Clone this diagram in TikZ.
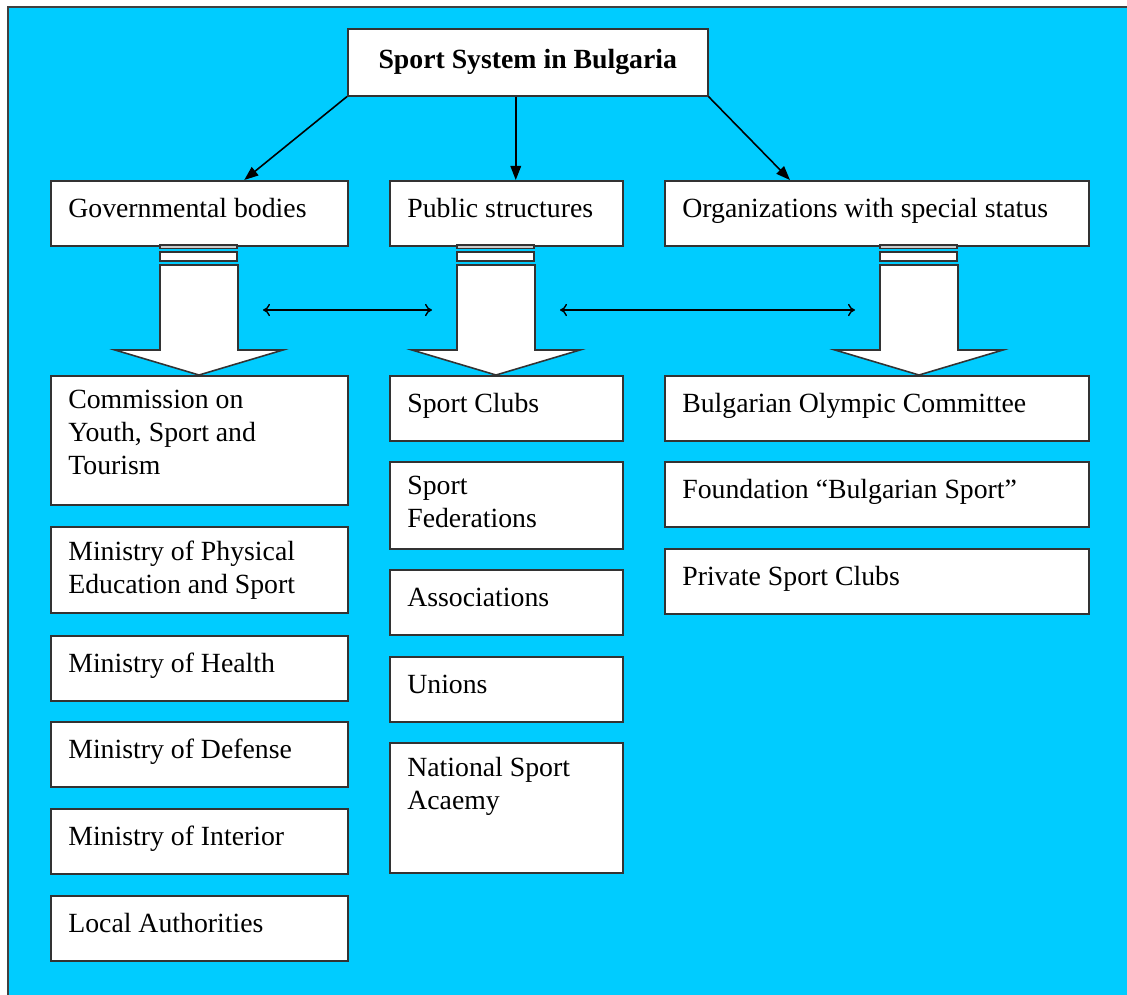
\documentclass[tikz,border=0pt]{standalone}
\usepackage{fontspec}
\setmainfont{Liberation Serif}
\usetikzlibrary{arrows.meta}
\definecolor{bgblue}{RGB}{0,204,255}
\tikzset{
  box/.style={draw=black!80, line width=0.9pt, fill=white, anchor=north west, inner sep=0pt, minimum height=1.3cm},
  txt/.style={anchor=north west, align=left, inner xsep=0.36cm, inner ysep=0.29cm, font=\fontsize{15.8}{18.8}\selectfont, execute at begin node=\strut},
  down/.style={-{Triangle[length=8pt,width=6pt]}, line width=0.9pt},
  both/.style={{To[length=4pt,width=7pt]}-{To[length=4pt,width=7pt]}, line width=0.8pt},
  blk/.style={draw=black!80, line width=0.9pt, fill=white}
}

\begin{document}
\begin{tikzpicture}[x=0.02cm,y=-0.02cm]
            \clip (0,0) rectangle (1127,995);
            \draw[fill=bgblue, draw=black!75, line width=1pt] (8,7) rectangle (1140,1010);

            \node[box, minimum width=7.2cm, minimum height=1.34cm, font=\fontsize{15.8}{18}\selectfont\bfseries] (sys) at (347,28) {Sport System in Bulgaria};

            \node[box, minimum width=5.94cm] (gov) at (50,180) {};
            \node[txt] (gov-t) at (gov.north west) {Governmental bodies};
            \node[box, minimum width=4.66cm] (pub) at (389,180) {};
            \node[txt] (pub-t) at (pub.north west) {Public structures};
            \node[box, minimum width=8.48cm] (org) at (664,180) {};
            \node[txt] (org-t) at (org.north west) {Organizations with special status};

            \draw[down] (sys.south west)--([xshift=0.9cm]gov.north);
            \draw[down] ([xshift=0.19cm]pub.north |- sys.south)--([xshift=0.19cm]pub.north);
            \draw[down] (sys.south east)--([xshift=2.52cm]org.north west);

            \coordinate (ga) at (198.5,265);
            \coordinate (pa) at (495.5,265);
            \coordinate (oa) at (918.5,265);
            \draw[blk, fill=gray!40] (ga) ++(-38.5,-20) rectangle ++(77,3.5);
            \draw[blk] (ga) ++(-38.5,-13) rectangle ++(77,9);
            \draw[blk] (ga) ++(-38.5,0)--++(0,85)--++(-45,0)--++(84,25)--++(84,-25)--++(-45,0)--++(0,-85)--cycle;
            \draw[blk, fill=gray!40] (pa) ++(-38.5,-20) rectangle ++(77,3.5);
            \draw[blk] (pa) ++(-38.5,-13) rectangle ++(77,9);
            \draw[blk] (pa) ++(-38.5,0)--++(0,85)--++(-45,0)--++(84,25)--++(84,-25)--++(-45,0)--++(0,-85)--cycle;
            \draw[blk, fill=gray!40] (oa) ++(-38.5,-20) rectangle ++(77,3.5);
            \draw[blk] (oa) ++(-38.5,-13) rectangle ++(77,9);
            \draw[blk] (oa) ++(-38.5,0)--++(0,85)--++(-45,0)--++(84,25)--++(84,-25)--++(-45,0)--++(0,-85)--cycle;

            \draw[both] ([shift={(64.5,45)}]ga)--([shift={(-63.5,45)}]pa);
            \draw[both] ([shift={(64.5,45)}]pa)--([shift={(-63.5,45)}]oa);

            \node[box, minimum width=5.94cm, minimum height=2.58cm] (com) at (50,375) {};
            \node[txt] (com-t) at (com.north west) {Commission on\\Youth, Sport and\\Tourism};
            \node[box, minimum width=5.94cm, minimum height=1.72cm] (mpe) at (50,526) {};
            \node[txt] (mpe-t) at (mpe.north west) {Ministry of Physical\\Education and Sport};
            \node[box, minimum width=5.94cm] (mh) at (50,635) {};
            \node[txt] (mh-t) at (mh.north west) {Ministry of Health};
            \node[box, minimum width=5.94cm] (md) at (50,721) {};
            \node[txt] (md-t) at (md.north west) {Ministry of Defense};
            \node[box, minimum width=5.94cm] (mi) at (50,808) {};
            \node[txt] (mi-t) at (mi.north west) {Ministry of Interior};
            \node[box, minimum width=5.94cm] (la) at (50,895) {};
            \node[txt] (la-t) at (la.north west) {Local Authorities};

            \node[box, minimum width=4.66cm] (sc) at (389,375) {};
            \node[txt] (sc-t) at (sc.north west) {Sport Clubs};
            \node[box, minimum width=4.66cm, minimum height=1.74cm] (sf) at (389,461) {};
            \node[txt] (sf-t) at (sf.north west) {Sport\\Federations};
            \node[box, minimum width=4.66cm] (as) at (389,569) {};
            \node[txt] (as-t) at (as.north west) {Associations};
            \node[box, minimum width=4.66cm] (un) at (389,656) {};
            \node[txt] (un-t) at (un.north west) {Unions};
            \node[box, minimum width=4.66cm, minimum height=2.6cm] (nsa) at (389,742) {};
            \node[txt] (nsa-t) at (nsa.north west) {National Sport\\Acaemy};

            \node[box, minimum width=8.48cm] (boc) at (664,375) {};
            \node[txt] (boc-t) at (boc.north west) {Bulgarian Olympic Committee};
            \node[box, minimum width=8.48cm] (fbs) at (664,461) {};
            \node[txt] (fbs-t) at (fbs.north west) {Foundation “Bulgarian Sport”};
            \node[box, minimum width=8.48cm] (psc) at (664,548) {};
            \node[txt] (psc-t) at (psc.north west) {Private Sport Clubs};
\end{tikzpicture}
\end{document}
